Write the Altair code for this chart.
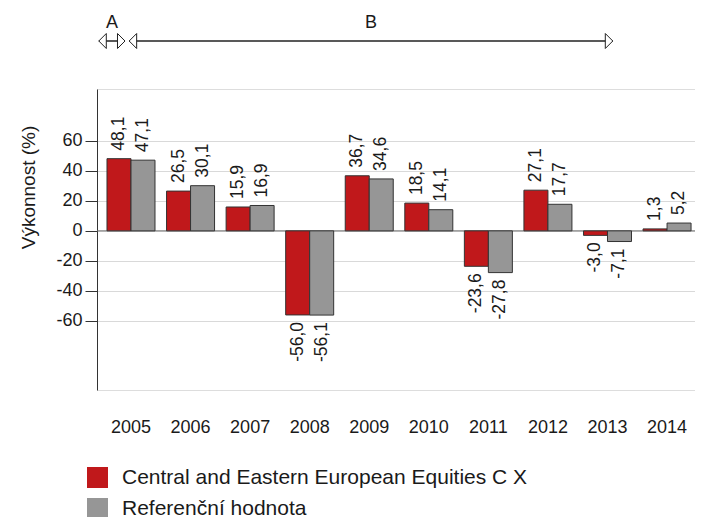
import altair as alt
import pandas as pd

# ---- data ----
years = ["2005", "2006", "2007", "2008", "2009", "2010", "2011", "2012", "2013", "2014"]
fund = [48.1, 26.5, 15.9, -56.0, 36.7, 18.5, -23.6, 27.1, -3.0, 1.3]
bench = [47.1, 30.1, 16.9, -56.1, 34.6, 14.1, -27.8, 17.7, -7.1, 5.2]
series = ["Central and Eastern European Equities C X", "Referenční hodnota"]
colors = ["#C0181B", "#969696"]
y_ticks = [-60, -40, -20, 0, 20, 40, 60]

arrow_names = ["A", "B"]
arrow_start = [2004.46, 2004.97]
arrow_end = [2004.90, 2013.09]

rows = []
for i, yr in enumerate(years):
    rows.append({"year": yr, "series": series[0], "value": fund[i]})
    rows.append({"year": yr, "series": series[1], "value": bench[i]})
df = pd.DataFrame(rows)
df["label"] = df["value"].map(lambda v: f"{v:.1f}".replace(".", ","))

zero_df = pd.DataFrame({"value": [0]})
arrow_df = pd.DataFrame({"name": arrow_names, "start": arrow_start, "end": arrow_end, "lvl": [0, 0]})

FONT = "Liberation Sans"
TXT = "#1a1a1a"

x_enc = alt.X(
    "year:N", sort=years,
    scale=alt.Scale(paddingInner=0.194, paddingOuter=0.117, align=0.717),
    axis=alt.Axis(title=None, labelAngle=0, labelFontSize=18, labelPadding=28,
                  labelBaseline="top", domain=False, ticks=False, labelColor=TXT,
                  labelFont=FONT),
)
xoff = alt.XOffset("series:N", sort=series, scale=alt.Scale(paddingInner=0, paddingOuter=0))
y_scale = alt.Scale(domain=[-106, 94.5], nice=False, zero=False)
y_enc = alt.Y(
    "value:Q", scale=y_scale,
    axis=alt.Axis(title="Výkonnost (%)", values=y_ticks, grid=True, gridColor="#D9D9D9",
                  gridWidth=1, domainColor="#333333", domainWidth=1, tickColor="#333333",
                  tickSize=12, labelPadding=3, labelFontSize=18, labelColor=TXT,
                  labelFont=FONT, labelExpr="replace(datum.label, '−', '-')",
                  titleFontSize=19, titleFontWeight="normal", titleColor=TXT, titleFont=FONT,
                  titleAngle=270, titleAlign="center", titleBaseline="middle",
                  titleX=-69, titleY=98),
)

bars = alt.Chart(df).mark_bar(stroke="#333333", strokeWidth=1).encode(
    x=x_enc, xOffset=xoff, y=y_enc,
    color=alt.Color(
        "series:N", sort=series, scale=alt.Scale(domain=series, range=colors),
        legend=alt.Legend(title=None, orient="none", legendX=-10, legendY=378,
                          direction="vertical", symbolType="square", symbolSize=441,
                          symbolStrokeWidth=0, labelFontSize=21, labelFont=FONT,
                          labelColor=TXT, labelLimit=0, labelOffset=14, rowPadding=9),
    ),
)

zero_rule = alt.Chart(zero_df).mark_rule(color="#6e6e6e", strokeWidth=1).encode(
    y=alt.Y("value:Q", scale=y_scale)
)

txt_pos = alt.Chart(df).transform_filter("datum.value >= 0").mark_text(
    angle=270, align="left", baseline="middle", dx=8, fontSize=17.5, font=FONT, color=TXT
).encode(x=alt.X("year:N", sort=years), xOffset=xoff, y=alt.Y("value:Q", scale=y_scale), text="label:N")

txt_neg = alt.Chart(df).transform_filter("datum.value < 0").mark_text(
    angle=270, align="right", baseline="middle", dx=-7, fontSize=17.5, font=FONT, color=TXT
).encode(x=alt.X("year:N", sort=years), xOffset=xoff, y=alt.Y("value:Q", scale=y_scale), text="label:N")

main = alt.layer(zero_rule, bars, txt_pos, txt_neg)

# ---- period arrows above the plot ----
xa = alt.Scale(domain=[2004.43, 2014.47], nice=False, zero=False)
ya = alt.Scale(domain=[0, 1], range=[-48, -66])

arrow_line = alt.Chart(arrow_df).mark_rule(color="#222222", strokeWidth=1.5).encode(
    x=alt.X("start:Q", scale=xa, axis=None), x2="end:Q",
    y=alt.Y("lvl:Q", scale=ya, axis=None),
)
head_left = alt.Chart(arrow_df).mark_point(
    shape="M0,0L1,-1L1,1Z", size=225, filled=True, fill="white", stroke="#222222",
    strokeWidth=1, opacity=1,
).encode(x=alt.X("start:Q", scale=xa, axis=None), y=alt.Y("lvl:Q", scale=ya, axis=None))
head_right = alt.Chart(arrow_df).mark_point(
    shape="M0,0L-1,-1L-1,1Z", size=225, filled=True, fill="white", stroke="#222222",
    strokeWidth=1, opacity=1,
).encode(x=alt.X("end:Q", scale=xa, axis=None), y=alt.Y("lvl:Q", scale=ya, axis=None))
arrow_text = alt.Chart(arrow_df).transform_calculate(
    mid="(datum.start + datum.end) / 2", top="datum.lvl + 1"
).mark_text(fontSize=18, font=FONT, color=TXT, baseline="middle").encode(
    x=alt.X("mid:Q", scale=xa, axis=None), y=alt.Y("top:Q", scale=ya, axis=None), text="name:N"
)

arrows = alt.layer(arrow_line, head_left, head_right, arrow_text)

chart = alt.layer(main, arrows).resolve_scale(x="independent", y="independent").properties(
    width=598, height=301,
    autosize=alt.AutoSizeParams(type="none"),
    padding={"left": 89, "top": 81, "right": 0, "bottom": 127},
).configure_view(stroke=None).configure(font=FONT)

chart.save("out.html", embed_options={"renderer": "svg", "actions": False})
